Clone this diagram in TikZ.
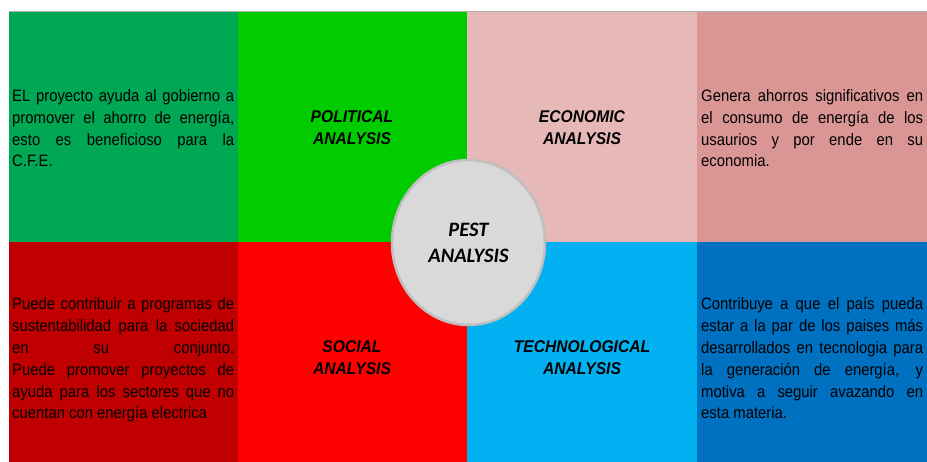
\documentclass[tikz,border=0pt]{standalone}
\usepackage{fontspec}
\setmainfont{Liberation Sans}
\newfontfamily\bodyfont{Liberation Sans}[FakeStretch=0.9]
\newfontfamily\labfont{Liberation Sans}[FakeStretch=0.92]
\newfontfamily\pestfont{Carlito}
\definecolor{ctopA}{RGB}{0,168,84}
\definecolor{ctopB}{RGB}{0,204,0}
\definecolor{ctopC}{RGB}{230,184,183}
\definecolor{ctopD}{RGB}{218,150,148}
\definecolor{cbotA}{RGB}{192,0,0}
\definecolor{cbotB}{RGB}{255,0,0}
\definecolor{cbotC}{RGB}{0,176,240}
\definecolor{cbotD}{RGB}{0,112,192}
\definecolor{cfill}{RGB}{217,217,217}
\definecolor{cedge}{RGB}{191,191,191}
\definecolor{cframe}{RGB}{175,175,175}
\tikzset{
  body/.style={anchor=base west, inner sep=0pt, text width=222pt, align=justify,
    font=\bodyfont\fontsize{16.5}{21.8}\selectfont,
    execute at begin node={\hyphenpenalty=10000 \exhyphenpenalty=10000 \tolerance=10000 \emergencystretch=0pt}},
  lab/.style={anchor=base, inner sep=0pt, align=center,
    font=\labfont\bfseries\itshape\fontsize{17}{22}\selectfont},
  pest/.style={ellipse, draw=cedge, line width=2.5pt, fill=cfill,
    minimum width=153pt, minimum height=165pt, inner sep=0pt,
    font=\pestfont\bfseries\itshape\fontsize{20.5}{28}\selectfont, align=center}
}
\usetikzlibrary{shapes.geometric}
\begin{document}
\begin{tikzpicture}[x=1pt,y=-1pt]
\useasboundingbox (0,0) rectangle (927,462);
\fill[ctopA] (9,12) rectangle (238.5,242.5);
\fill[ctopB] (238,12) rectangle (467.5,242.5);
\fill[ctopC] (467,12) rectangle (697.5,242.5);
\fill[ctopD] (697,12) rectangle (927,242.5);
\fill[cbotA] (9,242) rectangle (238.5,462);
\fill[cbotB] (238,242) rectangle (467.5,462);
\fill[cbotC] (467,242) rectangle (697.5,462);
\fill[cbotD] (697,242) rectangle (927,462);
\draw[cframe, line width=1pt] (9,12) -- (927,12);

\node[body] (tp) at (12,101.5) {EL proyecto ayuda al gobierno a\linebreak promover el ahorro de energía,\linebreak esto es beneficioso para la\linebreak C.F.E.};
\node[body] (te) at (701,101.5) {Genera ahorros significativos en\linebreak el consumo de energía de los\linebreak usaurios y por ende en su\linebreak economia.};
\node[body] (ts) at (12,310) {Puede contribuir a programas de\linebreak sustentabilidad para la sociedad\linebreak en su conjunto.\linebreak Puede promover proyectos de\linebreak ayuda para los sectores que no\linebreak cuentan con energía electrica};
\node[body] (tt) at (701,310) {Contribuye a que el país pueda\linebreak estar a la par de los paises más\linebreak desarrollados en tecnologia para\linebreak la generación de energía, y\linebreak motiva a seguir avazando en\linebreak esta materia.};

\node[lab] (lp) at (352,145) {POLITICAL\\ANALYSIS};
\node[lab] (le) at (582,145) {ECONOMIC\\ANALYSIS};
\node[lab] (ls) at (352,375) {SOCIAL\\ANALYSIS};
\node[lab] (lt) at (582,375) {TECHNOLOGICAL\\ANALYSIS};

\node[pest] (pc) at (468.5,242.5) {PEST\\[-2pt]ANALYSIS};
\end{tikzpicture}
\end{document}
